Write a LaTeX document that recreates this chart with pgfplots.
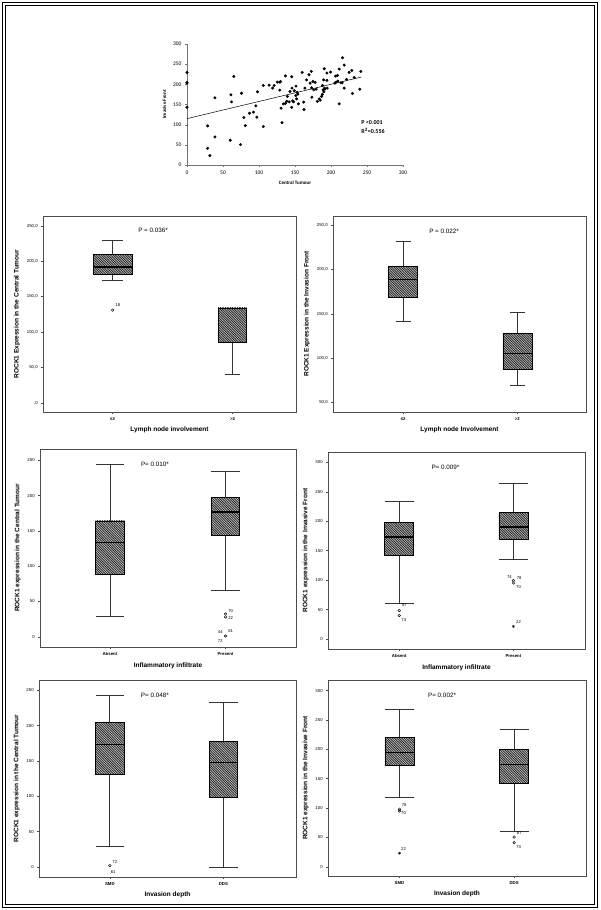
\documentclass[border=0pt]{standalone}
\usepackage{fontspec}
\setmainfont{Liberation Sans}
\newfontfamily\carlito{Carlito}
\usepackage{pgfplots}
\pgfplotsset{compat=1.18}
\usetikzlibrary{patterns}

% dense "\" hatching, like the SPSS boxes
\pgfdeclarepatternformonly{spsshatch}{\pgfqpoint{-1pt}{-1pt}}{\pgfqpoint{3.4pt}{3.4pt}}{\pgfqpoint{2.4pt}{2.4pt}}{
  \pgfsetlinewidth{0.7pt}
  \pgfpathmoveto{\pgfqpoint{-0.1pt}{2.5pt}}
  \pgfpathlineto{\pgfqpoint{2.5pt}{-0.1pt}}
  \pgfusepath{stroke}
}

\tikzset{
  ptext/.style={font=\fontsize{6.3}{7}\selectfont},
  olab/.style={font=\fontsize{4.2}{5}\selectfont, inner sep=0pt},
}

\pgfplotsset{
  spss/.style={
    scale only axis, anchor=north west, clip=false,
    axis line style={black!70, line width=0.5pt},
    tick pos=left, tick align=outside, major tick length=1.8pt,
    tick style={black!70, line width=0.4pt},
    /pgf/number format/assume math mode=true,
    yticklabel style={font=\fontsize{4.3}{5}\selectfont},
    xticklabel style={font=\bfseries\fontsize{4.3}{5}\selectfont},
    label style={font=\bfseries\fontsize{6.5}{7.5}\selectfont},
    xtick={1,2},
  },
  whisk/.style={black!80, line width=0.7pt, no marks},
  boxsty/.style={draw=black, line width=0.7pt, fill=gray!55, no marks,
    postaction={pattern=spsshatch, pattern color=black!85}},
  medsty/.style={black, line width=1.3pt, no marks},
  outl/.style={only marks, mark=o, mark size=1.3pt, black, mark options={line width=0.45pt}},
  star/.style={only marks, mark=asterisk, mark size=1.4pt, black, mark options={line width=0.45pt}},
}

% one box: position, box half width, cap half width, lower whisker, Q1, median, Q3, upper whisker
\newcommand\spssbox[8]{%
  \pgfmathsetmacro\boxl{#1-#2}\pgfmathsetmacro\boxr{#1+#2}%
  \pgfmathsetmacro\capl{#1-#3}\pgfmathsetmacro\capr{#1+#3}%
  \addplot[whisk] coordinates {(#1,#4) (#1,#5)};
  \addplot[whisk] coordinates {(#1,#7) (#1,#8)};
  \addplot[whisk] coordinates {(\capl,#4) (\capr,#4)};
  \addplot[whisk] coordinates {(\capl,#8) (\capr,#8)};
  \addplot[boxsty] coordinates {(\boxl,#5) (\boxr,#5) (\boxr,#7) (\boxl,#7)} --cycle;
  \addplot[black, line width=0.7pt, no marks] coordinates {(\boxl,#5) (\boxr,#5) (\boxr,#7) (\boxl,#7)} --cycle;
  \addplot[medsty] coordinates {(\boxl,#6) (\boxr,#6)};
}

\begin{document}
\begin{tikzpicture}
\path[use as bounding box] (0pt,0pt) rectangle (600pt,-910pt);

% scatter: invasive front against central tumour
\begin{axis}[
  at={(187pt,-44pt)}, anchor=north west, scale only axis, clip=false,
  width=216pt, height=121pt,
  xmin=0, xmax=300, ymin=0, ymax=300,
  axis x line=bottom, axis y line=left,
  axis line style={-, black!55, line width=0.5pt},
  xtick={0,50,...,300}, ytick={0,50,...,300},
  tick align=outside, major tick length=2pt, tick style={black!55},
  /pgf/number format/assume math mode=true,
  tick label style={font=\carlito\fontsize{5.5}{6}\selectfont},
  label style={font=\carlito\bfseries\fontsize{5}{6}\selectfont},
  xlabel={Central Tumour}, ylabel={Invasive Front},
]
\addplot[only marks, mark=*, mark size=1.3pt, black] coordinates {
(0,229.5) (0,204.7) (0,203) (0,143) (28.6,97) (28.6,41.4) (31.8,23.2)
(38.8,69.6) (38.8,166.6) (60,61.3) (61,174) (61.8,156.6) (65,219.6)
(74.3,50.5) (75.7,178) (79,117.7) (81,97.8) (86.8,128.5) (92.3,131)
(95.5,146.7) (97,118.5) (97.8,181.5) (106,95.3) (106,197.2) (114,198)
(119,190.6) (121,197.2) (125.5,205.5) (128.8,185.6) (129,205.5) (130,207)
(130.6,140.9) (132,105) (133.8,151.6) (136.6,152.5) (136.6,221) (138.5,158)
(139.4,170) (142,156.6) (143,182.3) (145.4,218.8) (145.4,143) (145.8,190.6)
(146.8,159) (148,156.6) (149,184) (151,172) (151.4,195.6) (152.3,164)
(153,180) (154,175.7) (154.6,151.6) (160,229.5) (162,155.8) (162.5,137.6)
(163.8,190.6) (166,211) (169.4,223.8) (171,203) (172.6,232) (173,191.4)
(173.5,168) (175,207) (176,186.5) (178,204.7) (179.5,188) (181,157.5)
(183.7,164) (185,160.8) (187,170) (188,174.9) (188.3,197.2) (189,186.5)
(189.7,211) (190,181.5) (190.6,238.7) (191,190.6) (191.5,188) (194.3,228)
(194.3,209.7) (194.8,190.6) (199.4,230.4) (205.4,203) (206.3,220.4)
(207,205.5) (209,222) (209.5,208) (211.4,237.8) (211.4,151.6) (213.7,203.9)
(215.5,203.9) (216,266) (218.3,247.8) (218.3,190.6) (221.5,212) (225.2,229.5)
(228.9,234.5) (229.8,177.3) (232.2,217) (240,188) (241.4,232)
};
\addplot[black, line width=0.5pt, no marks] coordinates {(0,115) (242,218)};
\node[anchor=west, font=\carlito\bfseries\fontsize{6}{7}\selectfont, inner sep=0pt] at (axis cs:242,104) {P <0.001};
\node[anchor=west, font=\carlito\bfseries\fontsize{6}{7}\selectfont, inner sep=0pt] at (axis cs:242,85) {R\textsuperscript{2}=0.556};
\end{axis}

% row 1 left
\begin{axis}[spss, at={(43pt,-216pt)}, width=253pt, height=196pt,
  xmin=0.42, xmax=2.53, ymin=-13, ymax=264,
  ytick={0,50,...,250}, yticklabels={{,0},{50,0},{100,0},{150,0},{200,0},{250,0}},
  xticklabels={≤2,>2},
  xlabel={Lymph node involvement}, ylabel={ROCK1 Expression in the Central Tumour}]
\spssbox{1}{0.162}{0.085}{173}{182}{192}{210}{230}
\spssbox{2}{0.12}{0.065}{40}{86}{133}{134}{134}
\addplot[outl] coordinates {(1,131)};
\node[olab] at (axis cs:1.045,138) {18};
\node[ptext] at (rel axis cs:0.435,0.925) {P = 0.036*};
\end{axis}

% row 1 right
\begin{axis}[spss, at={(333pt,-216pt)}, width=253pt, height=196pt,
  xmin=0.386, xmax=2.6, ymin=39, ymax=260.7,
  ytick={50,100,...,250}, yticklabels={{50,0},{100,0},{150,0},{200,0},{250,0}},
  xticklabels={≤2,>2},
  xlabel={Lymph node Involvement}, ylabel={ROCK1 Expression in the Invasion Front}]
\spssbox{1}{0.127}{0.065}{142}{169}{189}{204}{232}
\spssbox{2}{0.127}{0.065}{69}{87}{105}{128}{152}
\node[ptext] at (rel axis cs:0.439,0.923) {P = 0.022*};
\end{axis}

% row 2 left
\begin{axis}[spss, at={(40pt,-449pt)}, width=256pt, height=198pt,
  xmin=0.395, xmax=2.61, ymin=-14.6, ymax=265.9,
  ytick={0,50,...,250}, xticklabels={Absent,Present},
  xlabel={Inflammatory infiltrate}, ylabel={ROCK1 expression in the Central Tumour}]
\spssbox{1}{0.124}{0.124}{29}{88}{133}{164}{244}
\spssbox{2}{0.124}{0.124}{66}{143.6}{176.6}{197}{234}
\addplot[outl] coordinates {(2,32) (2,28) (2,1)};
\node[olab] at (axis cs:2.045,36) {70};
\node[olab] at (axis cs:2.045,26) {22};
\node[olab] at (axis cs:1.955,7) {44};
\node[olab] at (axis cs:2.045,8) {61};
\node[olab] at (axis cs:1.955,-6) {72};
\node[ptext] at (rel axis cs:0.449,0.924) {P= 0.010*};
\end{axis}

% row 2 right
\begin{axis}[spss, at={(328pt,-452pt)}, width=257pt, height=197pt,
  xmin=0.376, xmax=2.627, ymin=-17, ymax=317.5,
  ytick={0,50,...,300}, xticklabels={Absent,Present},
  xlabel={Inflammatory infiltrate}, ylabel={ROCK1 expression in the Invasive Front}]
\spssbox{1}{0.127}{0.127}{60}{142}{173}{198}{233}
\spssbox{2}{0.127}{0.127}{136}{169.5}{190}{215}{265}
\addplot[outl] coordinates {(1,48.5) (1,40) (2,99) (2,95)};
\addplot[star] coordinates {(2,21.4)};
\node[olab] at (axis cs:1.045,57) {87};
\node[olab] at (axis cs:1.04,31.5) {73};
\node[olab] at (axis cs:1.965,105.6) {74};
\node[olab] at (axis cs:2.05,102.7) {78};
\node[olab] at (axis cs:2.045,89) {70};
\node[olab] at (axis cs:2.045,29) {22};
\node[ptext] at (rel axis cs:0.457,0.924) {P= 0.009*};
\end{axis}

% row 3 left
\begin{axis}[spss, at={(39pt,-680pt)}, width=257pt, height=197pt,
  xmin=0.376, xmax=2.64, ymin=-14.2, ymax=264.4,
  ytick={0,50,...,250}, xticklabels={SMD,DDS},
  xlabel={Invasion depth}, ylabel={ROCK1 expression in the Central Tumour}]
\spssbox{1}{0.126}{0.126}{29}{131}{173}{204}{242}
\spssbox{2}{0.126}{0.126}{0}{98}{148}{177}{233}
\addplot[outl] coordinates {(1,2)};
\node[olab] at (axis cs:1.044,7) {72};
\node[olab] at (axis cs:1.03,-6.5) {61};
\node[ptext] at (rel axis cs:0.451,0.924) {P= 0.048*};
\end{axis}

% row 3 right
\begin{axis}[spss, at={(328pt,-680pt)}, width=258pt, height=196pt,
  xmin=0.376, xmax=2.627, ymin=-15.8, ymax=318,
  ytick={0,50,...,300}, xticklabels={SMD,DDS},
  xlabel={Invasion depth}, ylabel={ROCK1 expression in the Invasive Front}]
\spssbox{1}{0.127}{0.127}{118.6}{172}{195}{220}{268}
\spssbox{2}{0.127}{0.127}{61}{142}{174.5}{200}{234}
\addplot[outl] coordinates {(1,98) (1,95) (2,50.5) (2,41)};
\addplot[star] coordinates {(1,23)};
\node[olab] at (axis cs:1.04,104.6) {78};
\node[olab] at (axis cs:1.035,91) {70};
\node[olab] at (axis cs:1.035,30) {22};
\node[olab] at (axis cs:2.045,58) {87};
\node[olab] at (axis cs:2.04,33) {73};
\node[ptext] at (rel axis cs:0.442,0.923) {P= 0.002*};
\end{axis}

% double frame round the whole figure
\draw[line width=1.6pt] (2.5pt,-2.5pt) rectangle (597.5pt,-907.5pt);
\draw[line width=0.8pt] (5.5pt,-5.5pt) rectangle (594.5pt,-904.5pt);
\end{tikzpicture}
\end{document}
